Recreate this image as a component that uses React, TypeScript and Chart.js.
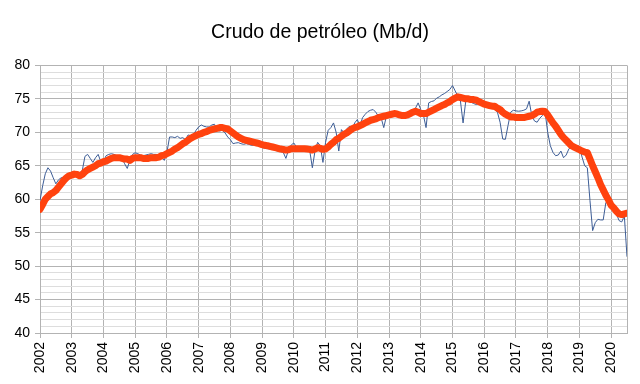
import React, { useEffect, useRef } from "react";
import { Chart, registerables } from "chart.js";

Chart.register(...registerables);

const TITLE = "Crudo de petróleo (Mb/d)";
const START_YEAR = 2002;
const Y_MIN = 40;
const Y_MAX = 80;

// Monthly crude oil production (Mb/d), Jan 2002 – Jul 2020
const monthly: number[] = [
  59.8, 62.0, 63.8, 64.7, 64.2, 63.2, 62.3, 62.9, 63.2, 63.3, 63.7, 63.9,
  64.0, 64.1, 63.8, 63.9, 64.3, 66.4, 66.7, 66.1, 65.5, 66.2, 66.7, 65.6,
  65.7, 66.5, 66.7, 66.8, 66.7, 66.5, 66.3, 66.2, 65.3, 64.6, 65.8, 66.7,
  66.95, 66.8, 66.6, 66.5, 66.6, 66.7, 66.8, 66.7, 66.7, 66.5, 66.2, 65.8,
  67.0, 69.3, 69.3, 69.2, 69.4, 69.1, 69.2, 68.9, 69.6, 69.5, 69.6, 70.3,
  70.8, 71.1, 70.9, 70.8, 70.8, 71.1, 71.2, 70.3, 70.2, 70.3, 69.9, 69.3,
  68.9, 68.3, 68.4, 68.45, 68.3, 68.2, 68.3, 68.2, 68.05, 68.1, 68.2, 68.0,
  67.75, 67.6, 67.55, 67.5, 67.45, 67.3, 67.2, 67.1, 67.0, 66.1, 67.4, 68.1,
  68.4, 67.8, 67.6, 67.55, 67.6, 67.7, 67.3, 64.7, 67.2, 68.5, 68.0, 65.5,
  68.5, 70.3, 70.7, 71.4, 70.0, 67.2, 70.4, 69.9, 70.5, 70.9, 70.3, 71.4,
  71.9, 71.0, 72.2, 72.7, 73.1, 73.3, 73.4, 73.0, 72.4, 72.2, 70.7, 72.4,
  72.7, 72.8, 72.7, 72.6, 72.6, 72.5, 72.5, 72.4, 72.6, 73.0, 73.6, 74.4,
  73.4, 72.6, 70.7, 74.4, 74.6, 74.7, 75.1, 75.3, 75.6, 75.8, 76.1, 76.4,
  77.0, 76.2, 75.4, 74.7, 71.4, 74.6, 74.6, 74.5, 74.3, 74.15, 74.3, 74.4,
  74.0, 73.9, 73.7, 73.6, 73.4, 73.0, 71.5, 69.0, 68.95, 71.0, 73.0, 73.3,
  73.2, 73.15, 73.2, 73.3, 73.5, 74.65, 72.5, 71.7, 71.5, 72.1, 72.5, 73.1,
  70.0, 68.0, 67.0, 66.5, 66.6, 67.2, 66.2, 66.6, 67.5, 67.9, 68.2, 68.0,
  67.9, 66.3, 65.0, 64.7, 59.8, 55.3, 56.5, 57.0, 56.9, 56.9, 59.5, 59.8,
  59.3, 58.8, 57.8, 56.8, 56.6, 57.5, 51.4,
];

// Smoothed (moving average) series
const average: number[] = [
  58.5, 59.2, 60.0, 60.4, 60.8, 61.0, 61.3, 61.8, 62.3, 62.8, 63.2, 63.5,
  63.6, 63.75, 63.7, 63.5, 63.7, 64.1, 64.4, 64.6, 64.8, 65.0, 65.3, 65.4,
  65.6, 65.7, 65.9, 66.1, 66.2, 66.2, 66.2, 66.1, 66.0, 66.0, 65.8, 66.1,
  66.2, 66.2, 66.2, 66.1, 66.1, 66.1, 66.2, 66.2, 66.2, 66.3, 66.5, 66.6,
  66.8, 67.0, 67.2, 67.5, 67.7, 68.0, 68.3, 68.5, 68.8, 69.1, 69.3, 69.5,
  69.7, 69.8, 70.0, 70.1, 70.3, 70.4, 70.5, 70.6, 70.7, 70.7, 70.6, 70.5,
  70.2, 69.9, 69.6, 69.3, 69.1, 68.9, 68.8, 68.7, 68.6, 68.5, 68.4, 68.3,
  68.15, 68.05, 68.0, 67.9, 67.8, 67.7, 67.6, 67.5, 67.45, 67.35, 67.4, 67.55,
  67.55, 67.55, 67.55, 67.55, 67.55, 67.5, 67.45, 67.35, 67.5, 67.7, 67.6, 67.45,
  67.5, 67.8, 68.2, 68.5, 68.9, 69.1, 69.4, 69.7, 69.9, 70.2, 70.5, 70.7,
  70.8, 71.0, 71.2, 71.4, 71.6, 71.8, 71.9, 72.0, 72.2, 72.3, 72.4, 72.5,
  72.6, 72.7, 72.8, 72.75, 72.6, 72.5, 72.5, 72.6, 72.8, 73.0, 73.15, 73.0,
  72.8, 72.8, 72.8, 73.0, 73.2, 73.4, 73.6, 73.8, 74.0, 74.15, 74.4, 74.6,
  74.9, 75.1, 75.3, 75.2, 75.1, 75.0, 75.0, 74.9, 74.9, 74.8, 74.6, 74.4,
  74.2, 74.1, 74.0, 73.9, 73.9, 73.6, 73.4, 73.0, 72.7, 72.5, 72.3, 72.3,
  72.2, 72.2, 72.2, 72.2, 72.3, 72.4, 72.5, 72.7, 73.0, 73.1, 73.15, 73.1,
  72.6, 72.0, 71.4, 70.9, 70.3, 69.7, 69.2, 68.8, 68.4, 68.0, 67.8, 67.6,
  67.4, 67.2, 67.05, 66.95, 66.0, 65.0, 64.1, 63.2, 62.2, 61.4, 60.6, 59.9,
  59.1, 58.7, 58.2, 57.8, 57.7, 57.8, 57.9,
];

const FONT = "'Liberation Sans', Arial, sans-serif";

export default function App() {
  const ref = useRef<HTMLCanvasElement | null>(null);

  useEffect(() => {
    if (!ref.current) return;
    const lastIdx = monthly.length - 1;
    const chart = new Chart(ref.current, {
      type: "line",
      data: {
        datasets: [
          {
            label: "Media",
            data: average.map((v, i) => ({ x: i, y: v })),
            borderColor: "#ff420e",
            backgroundColor: "#ff420e",
            borderWidth: 7,
            borderCapStyle: "round",
            borderJoinStyle: "round",
            pointRadius: 0,
            tension: 0,
          },
          {
            label: "Mensual",
            data: monthly.map((v, i) => ({ x: i, y: v })),
            borderColor: "#3d5d96",
            backgroundColor: "#3d5d96",
            borderWidth: 1,
            pointRadius: 0,
            tension: 0,
          },
        ],
      },
      options: {
        animation: false,
        responsive: false,
        maintainAspectRatio: false,
        layout: { padding: 0 },
        plugins: {
          legend: { display: false },
          tooltip: { enabled: false },
          title: {
            display: true,
            text: TITLE,
            color: "#000",
            font: { family: FONT, size: 19.5, weight: "normal" },
            padding: { top: 21, bottom: 21 },
          },
        },
        scales: {
          x: {
            type: "linear",
            min: 0,
            max: lastIdx,
            afterBuildTicks: (scale: any) => {
              const t: any[] = [];
              for (let v = 0; v <= lastIdx; v += 12) t.push({ value: v });
              if (t[t.length - 1].value !== lastIdx) t.push({ value: lastIdx });
              scale.ticks = t;
            },
            afterFit: (scale: any) => {
              scale.height = 51;
              scale.paddingLeft = 0;
              scale.paddingRight = 13;
            },
            ticks: {
              autoSkip: false,
              minRotation: 90,
              maxRotation: 90,
              padding: 4,
              color: "#000",
              font: { family: FONT, size: 14 },
              callback: (v: any) =>
                Number(v) % 12 === 0 ? String(START_YEAR + Number(v) / 12) : "",
            },
            grid: {
              color: "#b3b3b3",
              lineWidth: 1,
              tickLength: 5,
              tickColor: (ctx: any) =>
                ctx.tick && ctx.tick.value % 12 === 0 ? "#b3b3b3" : "rgba(0,0,0,0)",
            },
            border: { display: true, color: "#b3b3b3" },
          },
          y: {
            min: Y_MIN,
            max: Y_MAX,
            afterFit: (scale: any) => {
              scale.width = 40;
              scale.paddingTop = 0;
              scale.paddingBottom = 0;
            },
            ticks: {
              stepSize: 1,
              autoSkip: false,
              padding: 5,
              color: "#000",
              font: { family: FONT, size: 14 },
              callback: (v: any) => (Number(v) % 5 === 0 ? String(v) : ""),
            },
            grid: {
              color: (ctx: any) =>
                ctx.tick && ctx.tick.value % 5 === 0 ? "#b3b3b3" : "#dddddd",
              lineWidth: 1,
              tickLength: 5,
              tickColor: (ctx: any) =>
                ctx.tick && ctx.tick.value % 5 === 0 ? "#b3b3b3" : "rgba(0,0,0,0)",
            },
            border: { display: true, color: "#b3b3b3" },
          },
        },
      },
    } as any);
    return () => chart.destroy();
  }, []);

  return (
    <div style={{ position: "fixed", left: 0, top: 0, width: 640, height: 384, background: "#fff" }}>
      <canvas ref={ref} width={640} height={384} style={{ width: 640, height: 384 }} />
    </div>
  );
}
